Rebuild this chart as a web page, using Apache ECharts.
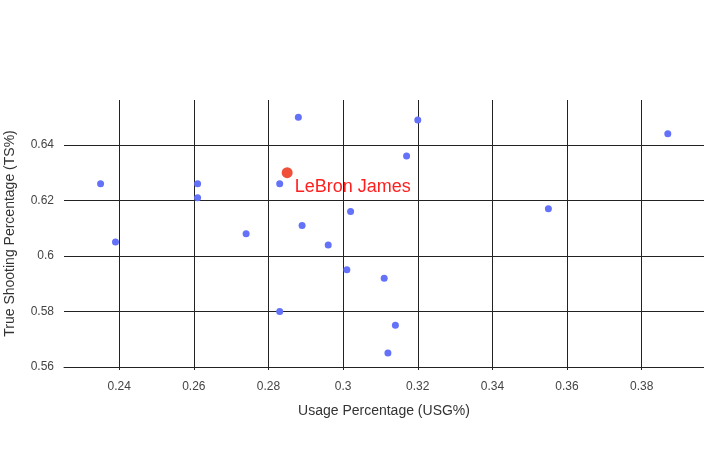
<!DOCTYPE html>
<html>
<head>
<meta charset="utf-8">
<script src="https://cdn.jsdelivr.net/npm/echarts@6/dist/echarts.min.js"></script>
<style>html,body{margin:0;padding:0;background:#fff}#c{width:704px;height:450px}</style>
</head>
<body>
<div id="c"></div>
<script>
var xTicks = [0.24, 0.26, 0.28, 0.30, 0.32, 0.34, 0.36, 0.38];
var yTicks = [0.56, 0.58, 0.60, 0.62, 0.64];
var playerUsg = [0.235, 0.239, 0.261, 0.261, 0.274, 0.283, 0.288, 0.289, 0.296, 0.301, 0.302, 0.311, 0.283, 0.314, 0.312, 0.317, 0.320, 0.355, 0.387];
var playerTs  = [0.626, 0.605, 0.626, 0.621, 0.608, 0.626, 0.650, 0.611, 0.604, 0.595, 0.616, 0.592, 0.580, 0.575, 0.565, 0.636, 0.649, 0.617, 0.644];
var lebronName = 'LeBron James';
var lebronUsg = [0.285];
var lebronTs = [0.630];

var others = playerUsg.map(function (v, i) { return [v, playerTs[i]]; });
var lebron = lebronUsg.map(function (v, i) { return [v, lebronTs[i]]; });

var chart = echarts.init(document.getElementById('c'), null, {renderer: 'canvas'});
chart.setOption({
  backgroundColor: '#fff',
  animation: false,
  grid: {left: 64, right: 0, top: 100, bottom: 83, containLabel: false, outerBoundsMode: 'none'},
  xAxis: {
    type: 'value',
    min: 0.2252, max: 0.3967,
    name: 'Usage Percentage (USG%)',
    nameLocation: 'middle',
    nameGap: 37,
    nameTextStyle: {fontFamily: 'Liberation Sans, Arial', fontSize: 14, color: '#333'},
    axisLine: {show: true, lineStyle: {color: '#222', width: 1}},
    axisTick: {show: true, length: 3, lineStyle: {color: '#222'}, customValues: xTicks},
    axisLabel: {customValues: xTicks, fontFamily: 'Liberation Sans, Arial', fontSize: 12, color: '#444', margin: 14,
      formatter: function (v) { return String(+v.toFixed(2)); }},
    splitLine: {show: true, lineStyle: {color: '#222', width: 1}}
  },
  yAxis: {
    type: 'value',
    min: 0.56, max: 0.6562,
    name: 'True Shooting Percentage (TS%)',
    nameLocation: 'middle',
    nameGap: 47,
    nameTextStyle: {fontFamily: 'Liberation Sans, Arial', fontSize: 14, color: '#333'},
    axisLine: {show: false},
    axisTick: {show: false, customValues: yTicks},
    axisLabel: {customValues: yTicks, fontFamily: 'Liberation Sans, Arial', fontSize: 12, color: '#444', margin: 10,
      formatter: function (v) { return String(+v.toFixed(2)); }},
    splitLine: {show: true, lineStyle: {color: '#222', width: 1}}
  },
  series: [
    {
      type: 'scatter',
      data: others,
      symbolSize: 7,
      itemStyle: {color: '#6372f8', opacity: 1},
      silent: true
    },
    {
      type: 'scatter',
      data: lebron,
      symbolSize: 11,
      itemStyle: {color: '#f0503a', opacity: 1},
      label: {
        show: true,
        position: 'right',
        distance: 5,
        offset: [-3, 14.5],
        formatter: lebronName,
        fontFamily: 'Liberation Sans, Arial',
        fontSize: 18,
        color: '#ff1f1f'
      },
      silent: true
    }
  ]
});
</script>
</body>
</html>
